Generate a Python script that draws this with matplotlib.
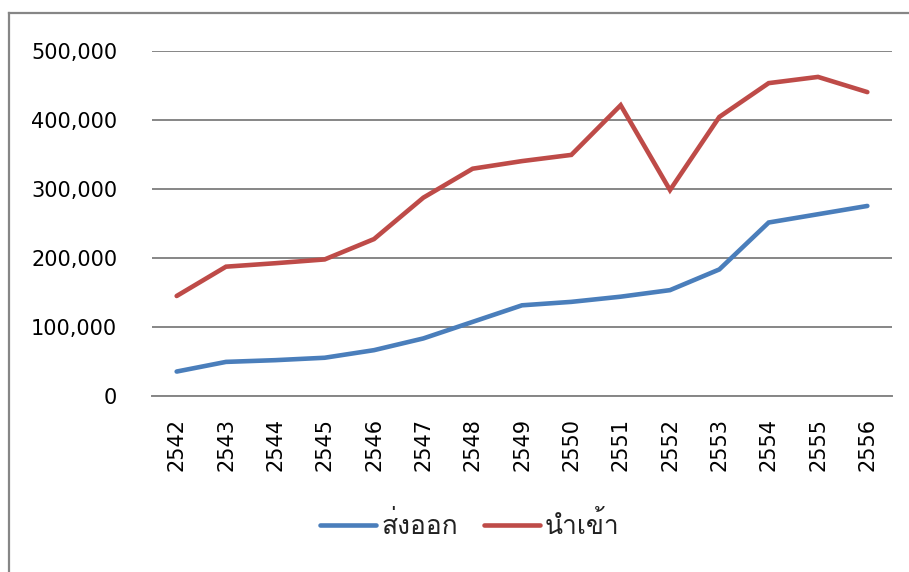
import matplotlib
matplotlib.use("Agg")
import matplotlib.pyplot as plt
from matplotlib import font_manager
from matplotlib.ft2font import FT2Font
from matplotlib.lines import Line2D
from matplotlib.ticker import FuncFormatter

years = ["2542", "2543", "2544", "2545", "2546", "2547", "2548", "2549",
         "2550", "2551", "2552", "2553", "2554", "2555", "2556"]
exports = [35000, 49000, 51500, 55000, 66000, 83000, 107000, 131000,
           136000, 143500, 153000, 183000, 251000, 263000, 275000]
imports = [144500, 187000, 192000, 197500, 227000, 287000, 329000, 340000,
           349000, 421000, 298000, 404000, 453000, 462000, 440000]
series_labels = ["ส่งออก", "นำเข้า"]
yticks = [0, 100000, 200000, 300000, 400000, 500000]


def find_thai_font():
    for entry in font_manager.fontManager.ttflist:
        try:
            cmap = FT2Font(entry.fname).get_charmap()
        except Exception:
            continue
        if ord("ส") in cmap and ord("ำ") in cmap:
            return entry.name
    return "DejaVu Sans"


thai_family = find_thai_font()
plt.rcParams["font.family"] = ["DejaVu Sans"]

W, H = 909, 572
fig = plt.figure(figsize=(W / 100, H / 100), dpi=100)
ax = fig.add_axes([152 / W, 1 - 395.7 / H, (892 - 152) / W, (395.7 - 50.7) / H])

x = list(range(len(years)))
blue = "#4A7EBB"
red = "#BE4B48"
l1, = ax.plot(x, exports, color=blue, lw=3.3, solid_capstyle="round",
              solid_joinstyle="miter", label=series_labels[0])
l2, = ax.plot(x, imports, color=red, lw=3.3, solid_capstyle="round",
              solid_joinstyle="miter", label=series_labels[1])

ax.set_xlim(-0.5, len(years) - 0.5)
ax.set_ylim(0, 500000)
ax.set_yticks(yticks)
ax.yaxis.set_major_formatter(FuncFormatter(lambda v, p: f"{int(v):,}"))
ax.set_xticks(x)
ax.set_xticklabels(years, rotation=90)
ax.tick_params(axis="y", length=0, pad=25, labelsize=15, labelcolor="black")
ax.tick_params(axis="x", length=0, pad=16, labelsize=15, labelcolor="black")
for lab in ax.get_xticklabels():
    lab.set_va("top")

grid_color = "#868686"
ax.grid(axis="y", color=grid_color, lw=1.4)
ax.set_axisbelow(True)
for s in ["left", "right", "top"]:
    ax.spines[s].set_visible(False)
ax.spines["bottom"].set_color(grid_color)
ax.spines["bottom"].set_linewidth(1.4)

# chart area outline (left and top edges)
fig.add_artist(Line2D([9 / W, 9 / W], [0, 1 - 13 / H], transform=fig.transFigure,
                      color=grid_color, lw=1.6))
fig.add_artist(Line2D([9 / W, 1], [1 - 13 / H, 1 - 13 / H], transform=fig.transFigure,
                      color=grid_color, lw=1.6))

leg = fig.legend(handles=[l1, l2], loc="center", ncol=2,
                 bbox_to_anchor=(470 / W, 1 - 525 / H), frameon=False,
                 prop={"family": [thai_family, "DejaVu Sans"], "size": 19},
                 handlelength=2.1, handletextpad=0.2, columnspacing=1.0)
for t in leg.get_texts():
    t.set_color("#222222")

fig.savefig("out.png", dpi=100, facecolor="white")
